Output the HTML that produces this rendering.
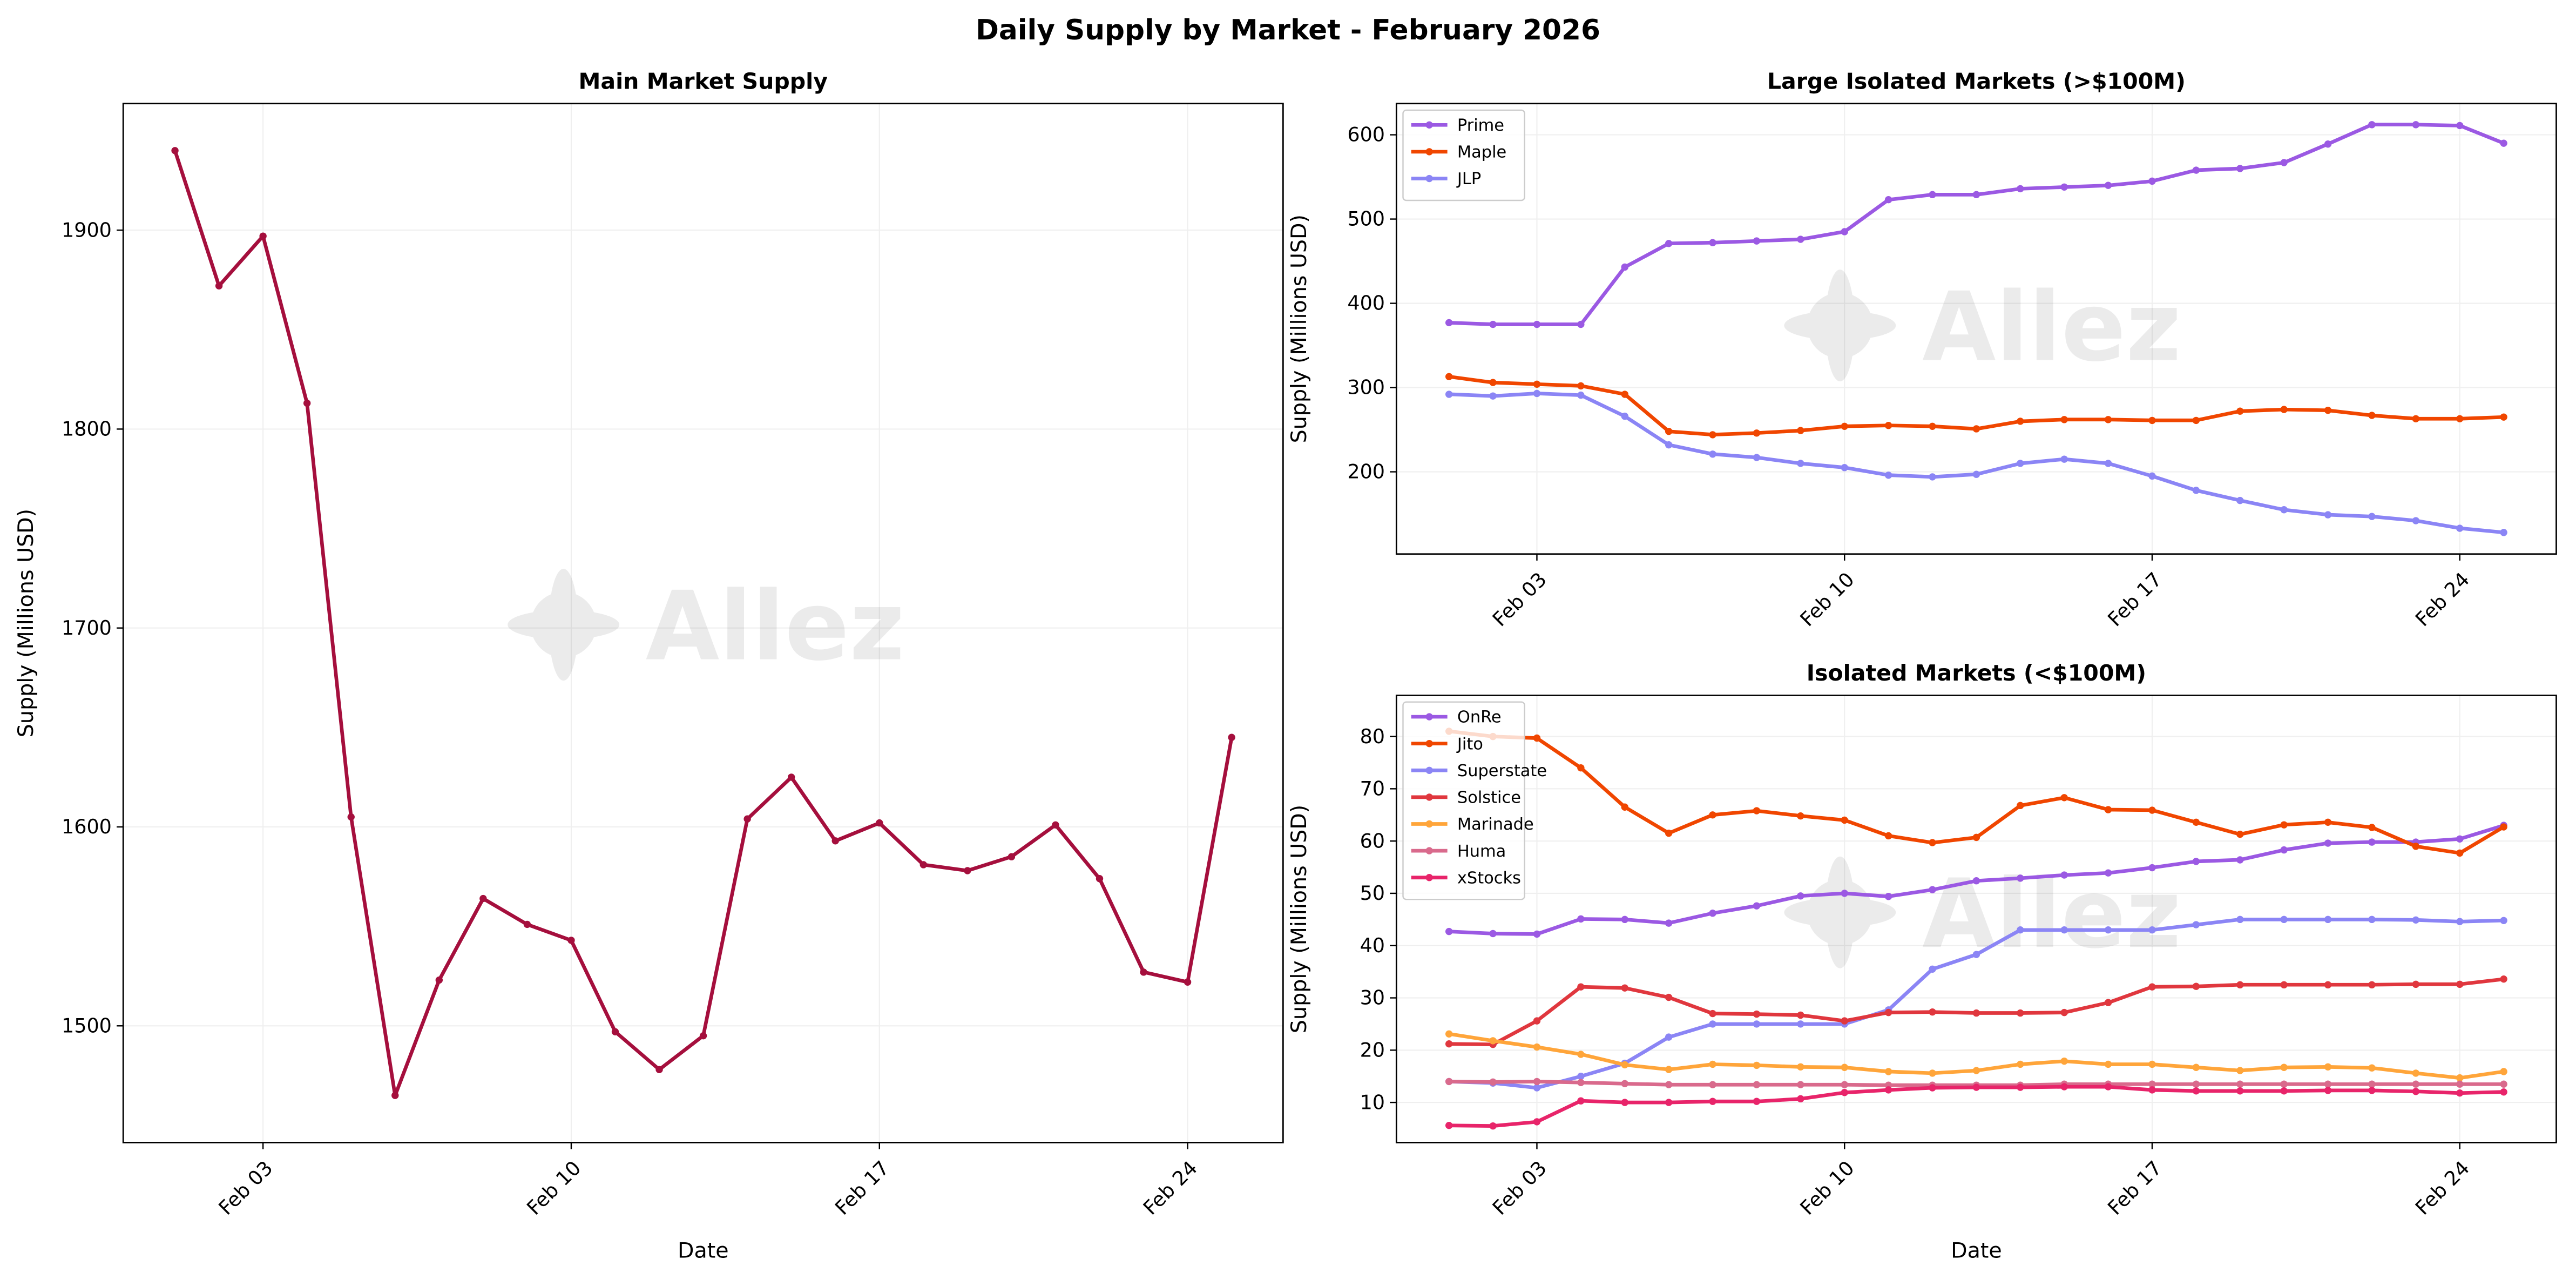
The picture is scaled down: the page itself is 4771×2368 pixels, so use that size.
<!DOCTYPE html>
<html><head><meta charset="utf-8"><style>
html,body{margin:0;padding:0;background:#fff}
svg{display:block}
text{font-family:"DejaVu Sans","Liberation Sans",sans-serif;fill:#000}
</style></head><body>
<svg id="s" width="4771" height="2368" viewBox="0 0 1568 778" preserveAspectRatio="none" xmlns="http://www.w3.org/2000/svg">
<rect width="1568" height="778" fill="#fff"/>
<text x="784" y="24" font-size="17" font-weight="bold" text-anchor="middle">Daily Supply by Market - February 2026</text>
<g id="g"></g>
</svg>
<script>
const g=document.getElementById('g');let h='';
function T(x,y,t,o){h+=`<text x="${x}" y="${y}" ${o||''}>${t}</text>`;}
function wm(cx,cy){
 h+=`<g opacity="0.075"><ellipse cx="${cx}" cy="${cy}" rx="34" ry="9" fill="#000"/><ellipse cx="${cx}" cy="${cy}" rx="9" ry="34" fill="#000"/><ellipse cx="${cx}" cy="${cy}" rx="20" ry="20" fill="#000"/>`;
 h+=`<text x="${cx+50}" y="${cy+21}" font-size="58" font-weight="bold" style="fill:#000">Allez</text></g>`;
}
function panel(o){
 const {x0,x1,y0,y1,title,yticks,yv,series,xlab,legend}=o;
 const X=d=>o.xa+(d-1)*o.xd, Y=v=>o.ya+(v-o.yb)*o.ys;
 yticks.forEach(v=>{h+=`<line x1="${x0}" x2="${x1}" y1="${Y(v)}" y2="${Y(v)}" stroke="#efefef" stroke-width="0.7"/>`;});
 [3,10,17,24].forEach(d=>{h+=`<line y1="${y0}" y2="${y1}" x1="${X(d)}" x2="${X(d)}" stroke="#efefef" stroke-width="0.7"/>`;});
 wm(o.wx,o.wy);
 series.forEach(s=>{
  let p=s.d.map((v,i)=>`${X(i+1).toFixed(1)},${Y(v).toFixed(1)}`).join(' ');
  h+=`<polyline points="${p}" fill="none" stroke="${s.c}" stroke-width="2.2" stroke-linejoin="round"/>`;
  s.d.forEach((v,i)=>{h+=`<circle cx="${X(i+1)}" cy="${Y(v)}" r="2.2" fill="${s.c}"/>`;});
 });
 h+=`<rect x="${x0}" y="${y0}" width="${x1-x0}" height="${y1-y0}" fill="none" stroke="#000" stroke-width="0.9"/>`;
 yticks.forEach(v=>{h+=`<line x1="${x0-4}" x2="${x0}" y1="${Y(v)}" y2="${Y(v)}" stroke="#000" stroke-width="0.8"/>`;T(x0-7,Y(v)+4,v,'font-size="12" text-anchor="end"');});
 [3,10,17,24].forEach(d=>{const x=X(d);h+=`<line y1="${y1}" y2="${y1+4}" x1="${x}" x2="${x}" stroke="#000" stroke-width="0.8"/>`;
  T(x+4,y1+14,'Feb '+String(d).padStart(2,'0'),`font-size="12" text-anchor="end" transform="rotate(-45 ${x+8} ${y1+12})"`);});
 T((x0+x1)/2,y0-9,title,'font-size="13.5" font-weight="bold" text-anchor="middle"');
 T(x0-55,(y0+y1)/2,'Supply (Millions USD)',`font-size="13" text-anchor="middle" transform="rotate(-90 ${x0-55} ${(y0+y1)/2})"`);
 if(xlab)T((x0+x1)/2,y1+70,'Date','font-size="13" text-anchor="middle"');
 if(legend){const n=series.length;h+=`<rect x="${x0+4}" y="${y0+4}" width="74" height="${n*16.3+6}" rx="2" fill="#fff" fill-opacity="0.8" stroke="#ccc" stroke-width="0.8"/>`;
  series.forEach((s,i)=>{const yy=y0+13+i*16.3;h+=`<line x1="${x0+9}" x2="${x0+31}" y1="${yy}" y2="${yy}" stroke="${s.c}" stroke-width="2.2"/><circle cx="${x0+20}" cy="${yy}" r="2.2" fill="${s.c}"/>`;T(x0+37,yy+3.5,s.n,'font-size="10"');});}
}
panel({x0:75,x1:781,y0:63,y1:695,title:'Main Market Supply',yticks:[1500,1600,1700,1800,1900],xa:106.5,xd:26.8,ya:140,yb:1900,ys:-1.21,xlab:true,wx:343,wy:380,
 series:[{c:'#a50f3d',d:[1940,1872,1897,1813,1605,1465,1523,1564,1551,1543,1497,1478,1495,1604,1625,1593,1602,1581,1578,1585,1601,1574,1527,1522,1645]}]});
panel({x0:850,x1:1556,y0:63,y1:337,title:'Large Isolated Markets (>$100M)',yticks:[200,300,400,500,600],xa:882,xd:26.75,ya:82,yb:600,ys:-0.5125,legend:true,wx:1120,wy:198,
 series:[{n:'Prime',c:'#9b59e3',d:[377,375,375,375,443,471,472,474,476,485,523,529,529,536,538,540,545,558,560,567,589,612,612,611,590]},
 {n:'Maple',c:'#f04600',d:[313,306,304,302,292,248,244,246,249,254,255,254,251,260,262,262,261,261,272,274,273,267,263,263,265]},
 {n:'JLP',c:'#8b85f5',d:[292,290,293,291,266,232,221,217,210,205,196,194,197,210,215,210,195,178,166,155,149,147,142,133,128]}]});
panel({x0:850,x1:1556,y0:423,y1:695,title:'Isolated Markets (<$100M)',yticks:[10,20,30,40,50,60,70,80],xa:882,xd:26.75,ya:448,yb:80,ys:-3.18,xlab:true,legend:true,wx:1120,wy:555,
 series:[{n:'OnRe',c:'#9b59e3',d:[42.7,42.3,42.2,45.1,45.0,44.3,46.2,47.6,49.5,50.0,49.4,50.7,52.4,52.9,53.5,53.9,54.9,56.1,56.4,58.3,59.6,59.8,59.8,60.4,63.0]},
 {n:'Jito',c:'#f04600',d:[81,80,79.7,74,66.5,61.5,65,65.8,64.8,64,61,59.7,60.7,66.8,68.3,66,65.9,63.6,61.3,63.1,63.6,62.6,59,57.7,62.7]},
 {n:'Superstate',c:'#8b85f5',d:[14,13.7,12.8,15,17.5,22.5,25,25,25,25,27.7,35.5,38.3,43,43,43,43,44,45,45,45,45,44.9,44.6,44.8]},
 {n:'Solstice',c:'#e0373e',d:[21.2,21.1,25.6,32.1,31.9,30.1,27,26.9,26.7,25.6,27.2,27.3,27.1,27.1,27.2,29.1,32.1,32.2,32.5,32.5,32.5,32.5,32.6,32.6,33.6]},
 {n:'Marinade',c:'#ffa53a',d:[23.1,21.8,20.6,19.2,17.2,16.3,17.3,17.1,16.8,16.7,15.9,15.6,16.1,17.3,17.9,17.3,17.3,16.7,16.1,16.7,16.8,16.6,15.6,14.7,15.9]},
 {n:'Huma',c:'#d96a8c',d:[14,13.9,14,13.8,13.6,13.4,13.4,13.4,13.4,13.4,13.3,13.3,13.3,13.3,13.5,13.5,13.5,13.5,13.5,13.5,13.5,13.5,13.5,13.5,13.5]},
 {n:'xStocks',c:'#e8246a',d:[5.6,5.5,6.3,10.3,10,10,10.2,10.2,10.7,11.9,12.4,12.8,12.9,12.9,13,13,12.4,12.2,12.2,12.2,12.3,12.3,12.1,11.8,12]}]});
g.innerHTML=h;
</script>
</body></html>
